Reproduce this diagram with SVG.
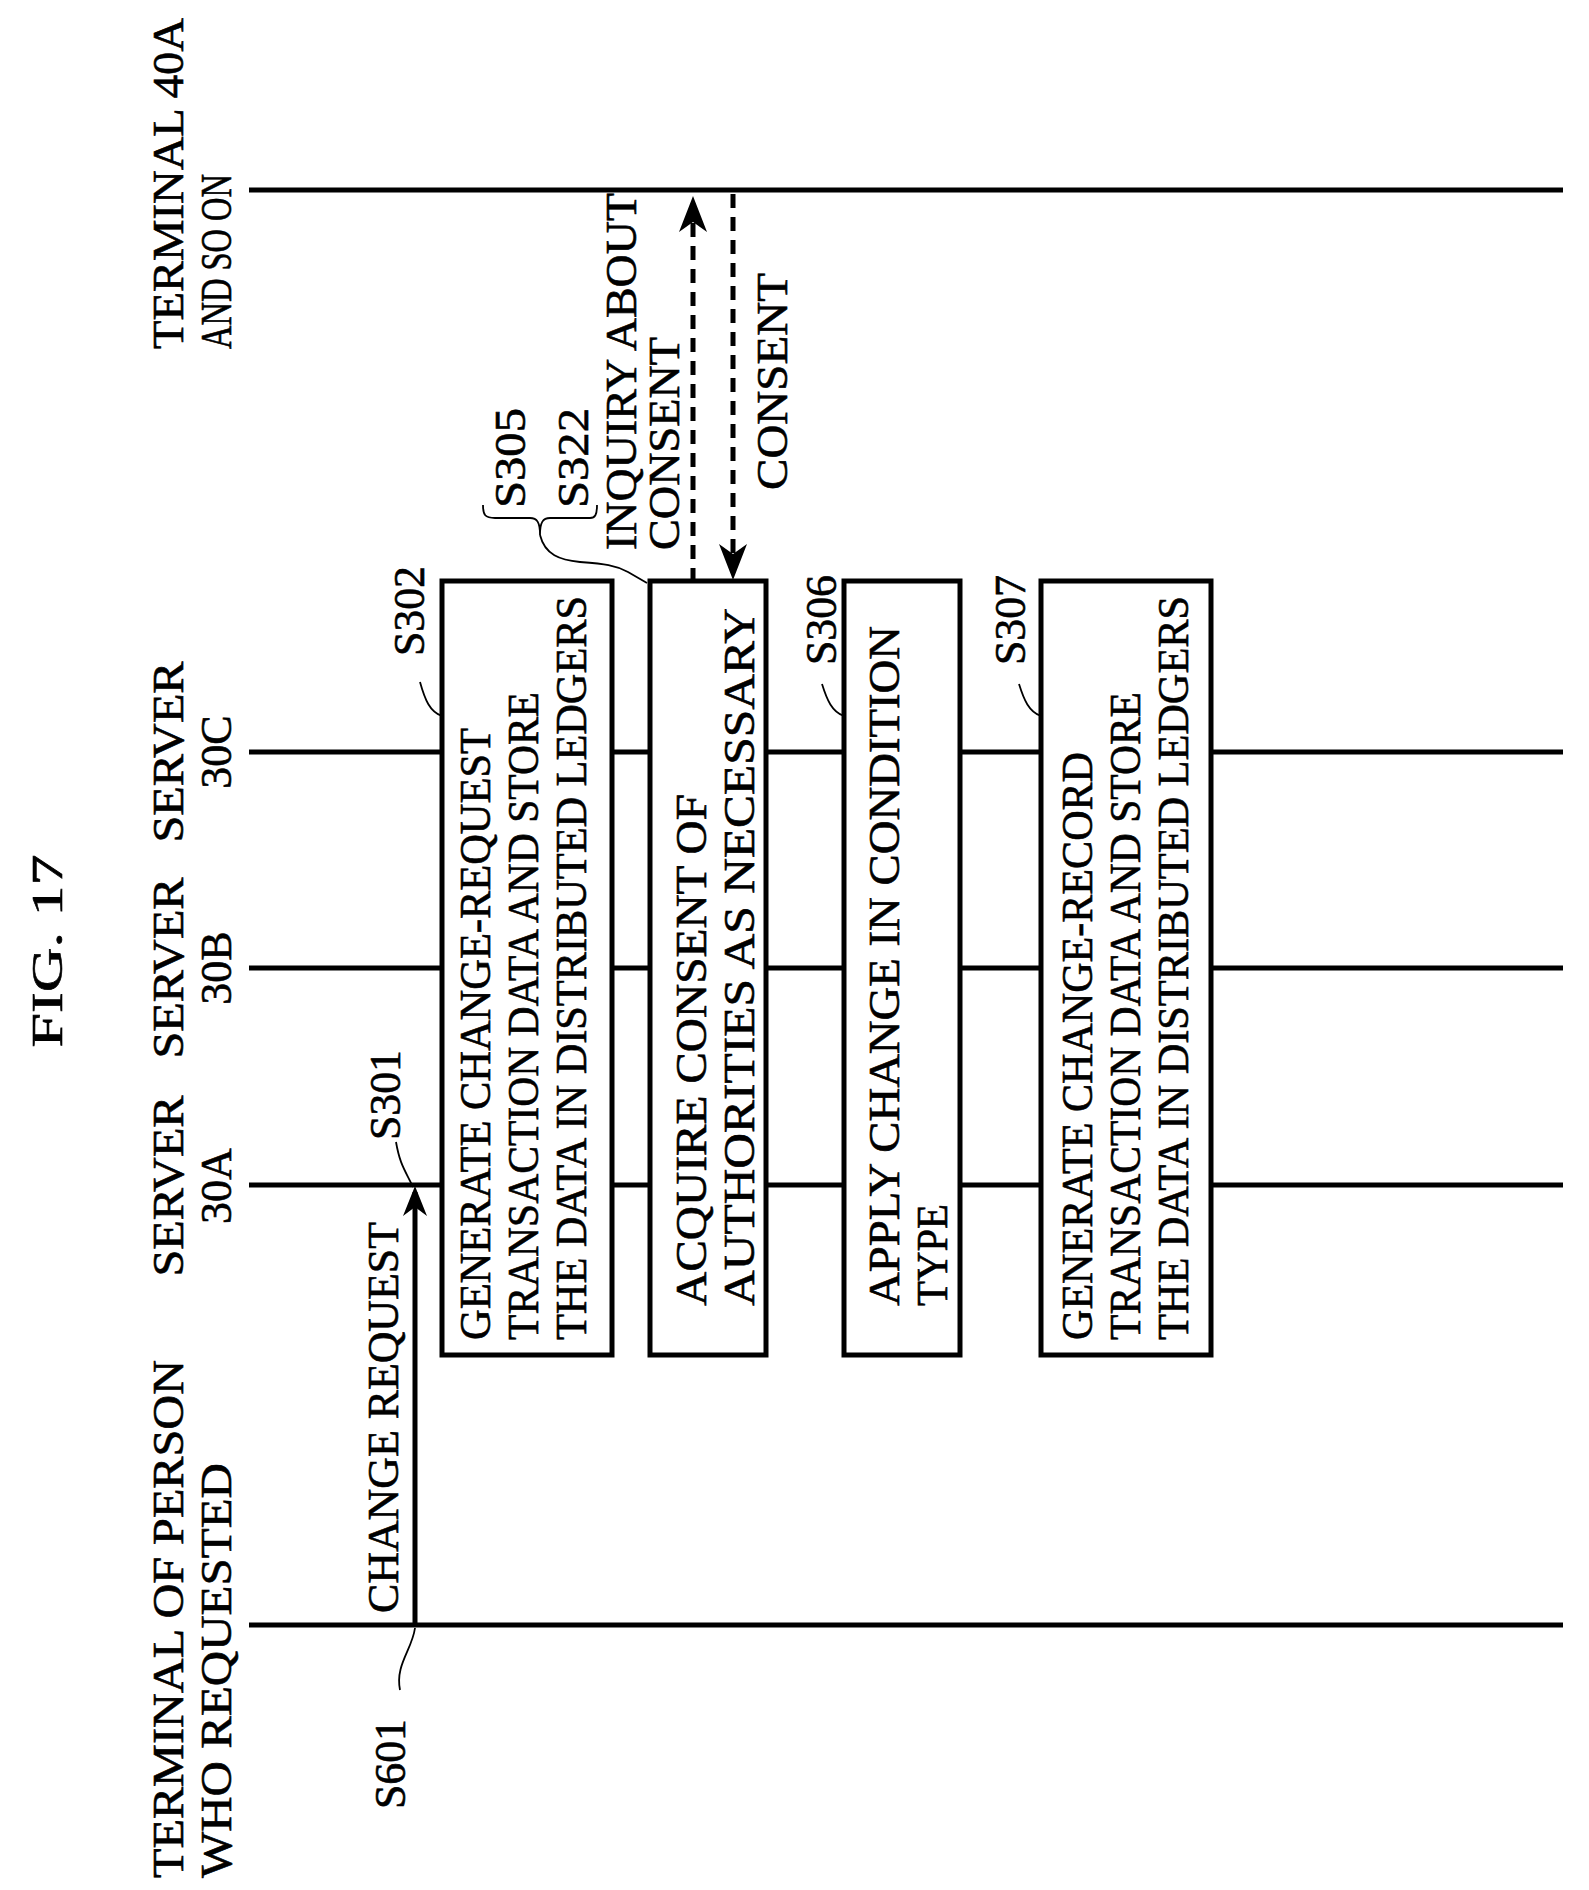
<svg xmlns="http://www.w3.org/2000/svg" width="1589" height="1890" viewBox="0 0 1589 1890">
<style>
text{font-family:"Liberation Serif","DejaVu Serif",serif;font-size:44px;fill:#000;stroke:#000;stroke-width:0.6}
.ll{stroke:#000;stroke-width:5;fill:none}
.box{stroke:#000;stroke-width:5;fill:#fff}
.ld{stroke:#000;stroke-width:1.8;fill:none}
.da{stroke:#000;stroke-width:5;fill:none;stroke-dasharray:14 9}
</style>
<text transform="translate(62,951) rotate(-90)" text-anchor="middle" font-size="54" textLength="193" lengthAdjust="spacingAndGlyphs">FIG. 17</text>
<g id="connectors">
<line class="ll" x1="249" y1="190" x2="1563" y2="190"/>
<line class="ll" x1="249" y1="752" x2="1563" y2="752"/>
<line class="ll" x1="249" y1="968" x2="1563" y2="968"/>
<line class="ll" x1="249" y1="1185" x2="1563" y2="1185"/>
<line class="ll" x1="249" y1="1625" x2="1563" y2="1625"/>
<line class="ll" x1="415" y1="1625" x2="415" y2="1192"/>
<path d="M403,1216 L415,1186 L427,1216 L415,1207 Z" fill="#000"/>
<line class="da" x1="693" y1="582" x2="693" y2="205"/>
<path d="M679,232 L693,196 L707,232 L693,222 Z" fill="#000"/>
<line class="da" x1="733" y1="194" x2="733" y2="570"/>
<path d="M719,544 L733,580 L747,544 L733,554 Z" fill="#000"/>
<path class="ld" d="M415,1628 C412,1650 395,1665 400,1690"/>
<path class="ld" d="M413,1187 C405,1170 400,1165 396,1142"/>
<path class="ld" d="M442,716 C430,712 425,700 420,682"/>
<path class="ld" d="M844,716 C832,712 827,700 822,684"/>
<path class="ld" d="M1041,716 C1029,712 1024,700 1019,684"/>
<path class="ld" d="M483,505 C483,515 485,518 495,518 L530,518 C537,518 540,522 540,535 C540,522 543,518 550,518 L590,518 C595,518 597,515 597,505"/>
<path class="ld" d="M540,535 C545,555 560,560 580,562 C605,564 615,565 628,572 L647,583"/>
</g>
<g id="lbl-terminal40a">
<text transform="translate(183,349) rotate(-90)" textLength="331" lengthAdjust="spacingAndGlyphs">TERMINAL 40A</text>
<text transform="translate(231,349) rotate(-90)" textLength="175" lengthAdjust="spacingAndGlyphs">AND SO ON</text>
</g>
<g id="lbl-30c">
<text transform="translate(183,752) rotate(-90)" text-anchor="middle" textLength="181" lengthAdjust="spacingAndGlyphs">SERVER</text>
<text transform="translate(231,752) rotate(-90)" text-anchor="middle">30C</text>
</g>
<g id="lbl-30b">
<text transform="translate(183,968) rotate(-90)" text-anchor="middle" textLength="181" lengthAdjust="spacingAndGlyphs">SERVER</text>
<text transform="translate(231,968) rotate(-90)" text-anchor="middle">30B</text>
</g>
<g id="lbl-30a">
<text transform="translate(183,1186) rotate(-90)" text-anchor="middle" textLength="181" lengthAdjust="spacingAndGlyphs">SERVER</text>
<text transform="translate(231,1186) rotate(-90)" text-anchor="middle">30A</text>
</g>
<g id="lbl-person">
<text transform="translate(183,1878) rotate(-90)" textLength="518" lengthAdjust="spacingAndGlyphs">TERMINAL OF PERSON</text>
<text transform="translate(231,1878) rotate(-90)" textLength="415" lengthAdjust="spacingAndGlyphs">WHO REQUESTED</text>
</g>
<g id="step-labels">
<text transform="translate(398,1613) rotate(-90)" textLength="391" lengthAdjust="spacingAndGlyphs">CHANGE REQUEST</text>
<text transform="translate(405,1764) rotate(-90)" text-anchor="middle" textLength="90" lengthAdjust="spacingAndGlyphs">S601</text>
<text transform="translate(400,1095) rotate(-90)" text-anchor="middle" textLength="90" lengthAdjust="spacingAndGlyphs">S301</text>
<text transform="translate(424,611) rotate(-90)" text-anchor="middle" textLength="90" lengthAdjust="spacingAndGlyphs">S302</text>
<text transform="translate(836,620) rotate(-90)" text-anchor="middle" textLength="90" lengthAdjust="spacingAndGlyphs">S306</text>
<text transform="translate(1025,620) rotate(-90)" text-anchor="middle" textLength="90" lengthAdjust="spacingAndGlyphs">S307</text>
<text transform="translate(525,458) rotate(-90)" text-anchor="middle" textLength="100" lengthAdjust="spacingAndGlyphs">S305</text>
<text transform="translate(588,458) rotate(-90)" text-anchor="middle" textLength="100" lengthAdjust="spacingAndGlyphs">S322</text>
<text transform="translate(636,550) rotate(-90)" textLength="357" lengthAdjust="spacingAndGlyphs">INQUIRY ABOUT</text>
<text transform="translate(679,550) rotate(-90)" textLength="213" lengthAdjust="spacingAndGlyphs">CONSENT</text>
<text transform="translate(787,490) rotate(-90)" textLength="217" lengthAdjust="spacingAndGlyphs">CONSENT</text>
</g>
<g id="s302">
<rect class="box" x="442" y="581" width="170" height="774"/>
<text transform="translate(490,1340) rotate(-90)" textLength="612" lengthAdjust="spacingAndGlyphs">GENERATE CHANGE-REQUEST</text>
<text transform="translate(538,1340) rotate(-90)" textLength="648" lengthAdjust="spacingAndGlyphs">TRANSACTION DATA AND STORE</text>
<text transform="translate(586,1340) rotate(-90)" textLength="744" lengthAdjust="spacingAndGlyphs">THE DATA IN DISTRIBUTED LEDGERS</text>
</g>
<g id="s305">
<rect class="box" x="650" y="581" width="116" height="774"/>
<text transform="translate(706,1306) rotate(-90)" textLength="512" lengthAdjust="spacingAndGlyphs">ACQUIRE CONSENT OF</text>
<text transform="translate(754,1306) rotate(-90)" textLength="698" lengthAdjust="spacingAndGlyphs">AUTHORITIES AS NECESSARY</text>
</g>
<g id="s306">
<rect class="box" x="844" y="581" width="116" height="774"/>
<text transform="translate(899,1306) rotate(-90)" textLength="680" lengthAdjust="spacingAndGlyphs">APPLY CHANGE IN CONDITION</text>
<text transform="translate(947,1306) rotate(-90)" textLength="102" lengthAdjust="spacingAndGlyphs">TYPE</text>
</g>
<g id="s307">
<rect class="box" x="1041" y="581" width="170" height="774"/>
<text transform="translate(1092,1340) rotate(-90)" textLength="588" lengthAdjust="spacingAndGlyphs">GENERATE CHANGE-RECORD</text>
<text transform="translate(1140,1340) rotate(-90)" textLength="648" lengthAdjust="spacingAndGlyphs">TRANSACTION DATA AND STORE</text>
<text transform="translate(1188,1340) rotate(-90)" textLength="744" lengthAdjust="spacingAndGlyphs">THE DATA IN DISTRIBUTED LEDGERS</text>
</g>
</svg>
